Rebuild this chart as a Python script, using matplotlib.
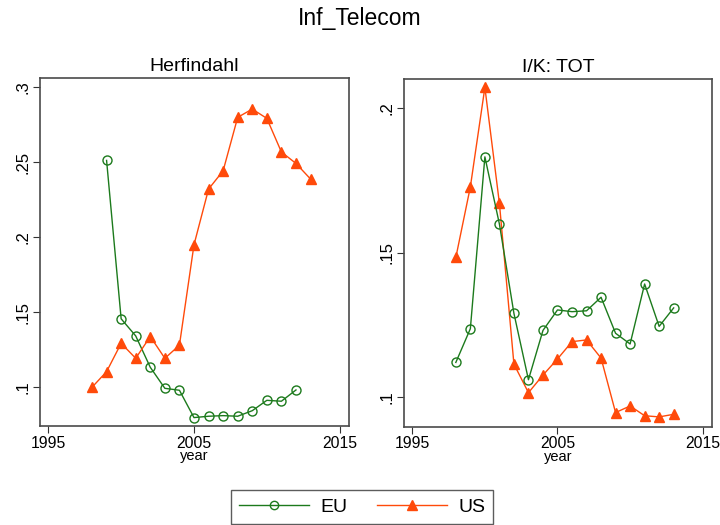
import matplotlib
matplotlib.use("Agg")
import matplotlib.pyplot as plt
from matplotlib.lines import Line2D

plt.rcParams['font.family'] = ['Liberation Sans', 'DejaVu Sans']

years_us = list(range(1998, 2014))
herf_us = [0.100, 0.1104, 0.1293, 0.1193, 0.1338, 0.1193, 0.128, 0.1949,
           0.232, 0.2442, 0.2798, 0.2853, 0.2791, 0.2567, 0.2491, 0.2387]
years_eu_herf = list(range(1999, 2013))
herf_eu = [0.2511, 0.1456, 0.1342, 0.1133, 0.0993, 0.098, 0.0798, 0.0807,
           0.0811, 0.0807, 0.0844, 0.0913, 0.0907, 0.0982]

years_ik = list(range(1998, 2014))
ik_us = [0.1483, 0.1728, 0.2073, 0.1671, 0.1113, 0.1014, 0.1075, 0.1131,
         0.1191, 0.1197, 0.1134, 0.0945, 0.0968, 0.0934, 0.0930, 0.0939]
ik_eu = [0.1119, 0.1236, 0.1832, 0.1599, 0.1289, 0.1059, 0.1230, 0.1301,
         0.1295, 0.1298, 0.1345, 0.1220, 0.1183, 0.1391, 0.1244, 0.1308]

xticks = [1995, 2005, 2015]
herf_yticks = [0.1, 0.15, 0.2, 0.25, 0.3]
herf_ylabels = ['.1', '.15', '.2', '.25', '.3']
ik_yticks = [0.1, 0.15, 0.2]
ik_ylabels = ['.1', '.15', '.2']

GREEN = '#1c7a1c'
ORANGE = '#ff4a0a'
FRAME = '#4a4a4a'

fig = plt.figure(figsize=(7.2, 5.25), dpi=100)
fig.text(0.5, 1 - 19/525, 'Inf_Telecom', fontsize=16.5, ha='center', va='center')

ax1 = fig.add_axes([40/720, 99/525, 309/720, 348/525])
ax2 = fig.add_axes([404/720, 98.3/525, 308/720, 347.4/525])

def style(ax, title, yt, yl, ylim):
    ax.set_title(title, fontsize=14, pad=5)
    ax.set_xlim(1994.43, 2015.64)
    ax.set_ylim(*ylim)
    ax.set_xticks(xticks)
    ax.set_yticks(yt)
    ax.set_yticklabels(yl, rotation=90, va='center')
    ax.set_xlabel('year', fontsize=10.5, labelpad=-1)
    ax.tick_params(labelsize=12, length=5, width=0.8, color='#333333', direction='out', pad=2)
    ax.tick_params(axis='x', labelsize=11.3)
    for s in ax.spines.values():
        s.set_color(FRAME)
        s.set_linewidth(1.2)

ax1.plot(years_eu_herf, herf_eu, color=GREEN, lw=1, marker='o', ms=6.5,
         mfc='none', mec=GREEN, mew=1)
ax1.plot(years_us, herf_us, color=ORANGE, lw=1, marker='^', ms=7.5,
         mfc=ORANGE, mec=ORANGE)
style(ax1, 'Herfindahl', herf_yticks, herf_ylabels, (0.0742, 0.306))

ax2.plot(years_ik, ik_us, color=ORANGE, lw=1, marker='^', ms=7.5,
         mfc=ORANGE, mec=ORANGE)
ax2.plot(years_ik, ik_eu, color=GREEN, lw=1, marker='o', ms=6.5,
         mfc='none', mec=GREEN, mew=1)
style(ax2, 'I/K: TOT', ik_yticks, ik_ylabels, (0.0896, 0.2101))

handles = [Line2D([], [], color=GREEN, lw=1, marker='o', ms=6, mfc='none', mec=GREEN),
           Line2D([], [], color=ORANGE, lw=1, marker='^', ms=7, mfc=ORANGE, mec=ORANGE)]
leg = fig.legend(handles, ['EU', 'US'], loc='center', bbox_to_anchor=(362/720, 18/525),
                 ncol=2, fontsize=14, frameon=True, fancybox=False, handlelength=3.6,
                 columnspacing=1.5, handletextpad=0.6, borderpad=0.4)
leg.get_frame().set_edgecolor('#333333')
leg.get_frame().set_linewidth(1)

fig.savefig('out.png', dpi=100)
